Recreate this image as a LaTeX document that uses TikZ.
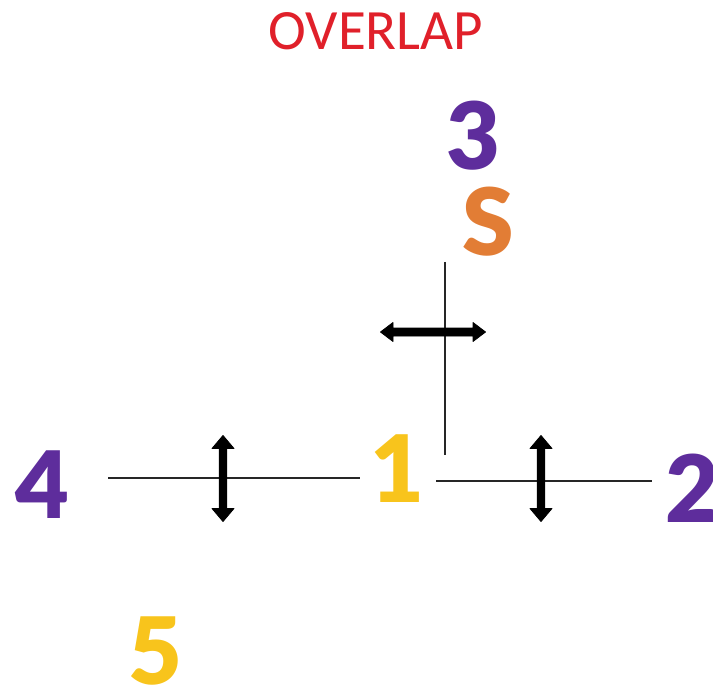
\documentclass[tikz,border=0pt]{standalone}
\usepackage{fontspec}
\setmainfont{Lato Black}
\newfontfamily\titlefont{Carlito}
\definecolor{cpurple}{HTML}{5E2D9C}
\definecolor{corange}{HTML}{E27D35}
\definecolor{cyellow}{HTML}{F8C41C}
\definecolor{cred}{HTML}{E0202A}
\tikzset{
  digit/.style={inner sep=0pt, anchor=base, text depth=0pt, font=\fontsize{93}{93}\selectfont},
  thinline/.style={line width=1.2pt, black!85},
  arrowbody/.style={fill=black, draw=black, line width=0.8pt, line join=round}
}
\begin{document}
\begin{tikzpicture}[x=1pt,y=-1pt]
\useasboundingbox (0,0) rectangle (713,690);
\node[text=cred, inner sep=0pt, anchor=base, font=\titlefont\fontsize{57}{57}\selectfont] (title) at (376,50) {OVERLAP};
\node[digit, text=cpurple] (n3) at (473,170) {3};
\node[digit, text=corange] (nS) at (488,255) {S};
\node[digit, text=cyellow] (n1) at (397,502) {1};
\node[digit, text=cpurple] (n4) at (42,518) {4};
\node[digit, text=cpurple] (n2) at (692,522) {2};
\node[digit, text=cyellow] (n5) at (155,684) {5};
\coordinate (vtop) at (445,262);
\coordinate (vbot) at (445,455);
\coordinate (lA) at (108,478);
\coordinate (lB) at (360,478);
\coordinate (rA) at (436,481);
\coordinate (rB) at (652,481);
\draw[thinline] (vtop) -- (vbot);
\draw[thinline] (lA) -- (lB);
\draw[thinline] (rA) -- (rB);
% horizontal double arrow, centre (433,332)
\filldraw[arrowbody, shift={(433,332)}]
  (-52.5,0) -- (-40,-9.5) -- (-40,-4) -- (40,-4) -- (40,-9.5) -- (52.5,0)
  -- (40,9.5) -- (40,4) -- (-40,4) -- (-40,9.5) -- cycle;
% vertical double arrows
\foreach \cx in {223, 541}{
  \filldraw[arrowbody, shift={(\cx,478.5)}]
    (0,-43) -- (11,-30) -- (3.8,-30) -- (3.8,30) -- (11,30) -- (0,43)
    -- (-11,30) -- (-3.8,30) -- (-3.8,-30) -- (-11,-30) -- cycle;
}
\end{tikzpicture}
\end{document}
